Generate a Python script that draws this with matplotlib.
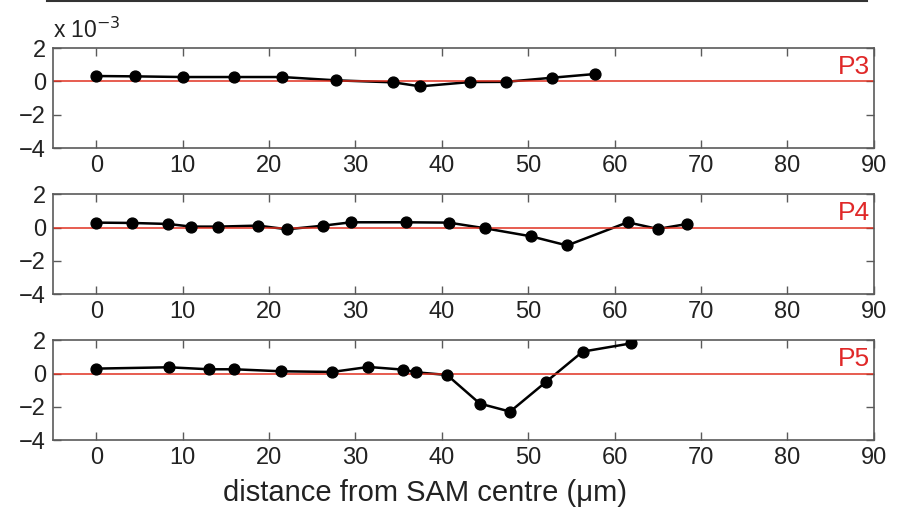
import matplotlib
matplotlib.use("Agg")
import matplotlib.pyplot as plt
from matplotlib.lines import Line2D

plt.rcParams['font.family'] = ['Liberation Sans', 'DejaVu Sans']

# Displacement profiles along the transect (values in units of 1e-3)
p3_x = [0.0, 4.5, 10.0, 15.9, 21.5, 27.8, 34.4, 37.5, 43.3, 47.4, 52.8, 57.7]
p3_y = [0.32, 0.30, 0.26, 0.26, 0.26, 0.06, -0.06, -0.30, -0.04, -0.03, 0.22, 0.44]

p4_x = [0.0, 4.1, 8.3, 11.0, 14.1, 18.75, 22.1, 26.3, 29.5, 35.8, 40.8,
        45.0, 50.3, 54.5, 61.5, 65.0, 68.4]
p4_y = [0.30, 0.28, 0.22, 0.06, 0.06, 0.12, -0.10, 0.12, 0.32, 0.32, 0.30,
        -0.04, -0.52, -1.07, 0.32, -0.08, 0.22]

p5_x = [0.0, 8.4, 13.1, 16.0, 21.4, 27.3, 31.5, 35.5, 37.0, 40.6,
        44.4, 47.9, 52.0, 56.3, 61.95]
p5_y = [0.30, 0.38, 0.26, 0.26, 0.14, 0.10, 0.40, 0.24, 0.08, -0.08,
        -1.80, -2.28, -0.52, 1.32, 1.82]

panels = [("P3", p3_x, p3_y), ("P4", p4_x, p4_y), ("P5", p5_x, p5_y)]

x_ticks = [0, 10, 20, 30, 40, 50, 60, 70, 80, 90]
y_ticks = [-4, -2, 0, 2]

fig = plt.figure(figsize=(9.02, 5.17), dpi=100)

left, width = 0.0588, 0.910
bottoms = [0.7137, 0.4308, 0.1484]
height = 0.1934

spine_col = "#5a5a5a"
red = "#e03020"
label_red = "#e02828"
txt = "#222222"
fs = 17

for (name, xs, ys), b in zip(panels, bottoms):
    ax = fig.add_axes([left, b, width, height])
    ax.plot(xs, ys, color="black", lw=1.8, zorder=2)
    ax.axhline(0, color=red, lw=1.1, zorder=2.5)
    ax.plot(xs, ys, "o", color="black", ms=7.8, zorder=3)
    ax.set_xlim(-5, 90)
    ax.set_ylim(-4, 2)
    ax.set_xticks(x_ticks)
    ax.set_yticks(y_ticks)
    ax.set_xticklabels([str(t) for t in x_ticks])
    ax.set_yticklabels(["\u22124", "\u22122", "0", "2"])
    ax.tick_params(direction="in", length=6, width=1, color=spine_col,
                   labelsize=fs, labelcolor=txt, top=True, right=True,
                   pad=5)
    for s in ax.spines.values():
        s.set_color(spine_col)
        s.set_linewidth(1.2)
    ax.text(89.6, 0.15, name, color=label_red, fontsize=19,
            ha="right", va="bottom")
    if name == "P3":
        ax.text(-5, 2.3, "x 10$^{-3}$", fontsize=16.5, color=txt,
                ha="left", va="bottom")

fig.text(425 / 902, 1 - 493 / 517, "distance from SAM centre (\u03bcm)",
         fontsize=21, color=txt, ha="center", va="center")

# edge of the panel above, cut at the top of the figure
fig.add_artist(Line2D([47 / 902, 867 / 902], [0.999, 0.999],
                      transform=fig.transFigure, color="#333333", lw=1.5))

fig.savefig("out.png", dpi=100)
